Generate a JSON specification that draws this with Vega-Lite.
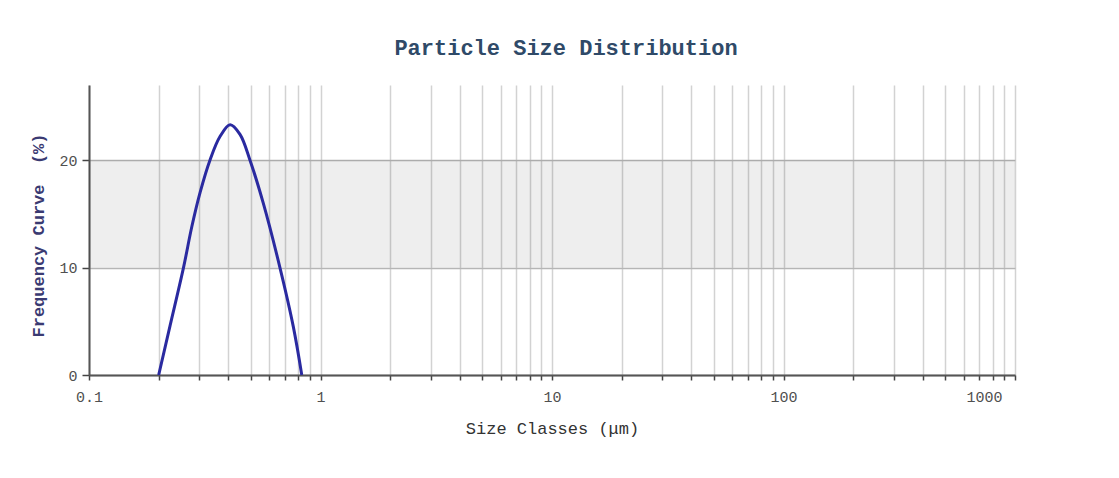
{
  "$schema": "https://vega.github.io/schema/vega-lite/v6.json",
  "autosize": "none",
  "padding": {"left": 89, "top": 85, "right": 104, "bottom": 103},
  "width": 926,
  "height": 290,
  "background": "white",
  "title": {
    "text": "Particle Size Distribution",
    "font": "Liberation Mono",
    "fontSize": 22,
    "fontWeight": "bold",
    "color": "#2f4a68",
    "anchor": "middle",
    "dx": 14,
    "offset": 25
  },
  "config": {
    "view": {"stroke": null},
    "axis": {
      "labelFont": "Liberation Mono",
      "labelFontSize": 15,
      "labelColor": "#505050",
      "domainColor": "#555555",
      "domainWidth": 2,
      "tickColor": "#444444",
      "tickWidth": 1.5
    }
  },
  "datasets": {
    "band": [{"lo": 10, "hi": 20}],
    "curve": [
      {"size": 0.2, "freq": 0},
      {"size": 0.224, "freq": 4.6},
      {"size": 0.256, "freq": 10},
      {"size": 0.278, "freq": 13.8},
      {"size": 0.302, "freq": 17.0},
      {"size": 0.333, "freq": 20},
      {"size": 0.368, "freq": 22.2},
      {"size": 0.407, "freq": 23.3},
      {"size": 0.449, "freq": 22.4},
      {"size": 0.496, "freq": 20},
      {"size": 0.566, "freq": 16.0},
      {"size": 0.668, "freq": 10},
      {"size": 0.763, "freq": 4.5},
      {"size": 0.83, "freq": 0}
    ]
  },
  "layer": [
    {
      "data": {"name": "band"},
      "mark": {"type": "rect", "fill": "#000000", "opacity": 0.065},
      "encoding": {
        "y": {"field": "lo", "type": "quantitative", "scale": {"domain": [0, 27], "nice": false}},
        "y2": {"field": "hi"}
      }
    },
    {
      "data": {"name": "curve"},
      "mark": {"type": "line", "color": "#2a2aa0", "strokeWidth": 3, "interpolate": "catmull-rom"},
      "encoding": {
        "x": {
          "field": "size",
          "type": "quantitative",
          "scale": {"type": "log", "domain": [0.1, 1000], "nice": false},
          "axis": {
            "values": [0.1, 0.2, 0.3, 0.4, 0.5, 0.6, 0.7, 0.8, 0.9, 1, 2, 3, 4, 5, 6, 7, 8, 9, 10, 20, 30, 40, 50, 60, 70, 80, 90, 100, 200, 300, 400, 500, 600, 700, 800, 900, 1000],
            "labelExpr": "indexof([0.1, 1, 10, 100, 1000], datum.value) >= 0 ? (datum.value < 1 ? '0.1' : format(datum.value, 'd')) : ''",
            "labelOverlap": false,
            "labelBound": false,
            "labelFlush": false,
            "labelOffset": {"condition": {"test": "datum.value === 1000", "value": -31}, "value": 0},
            "labelPadding": 9,
            "tickSize": 5,
            "grid": true,
            "gridColor": "#d2d2d2",
            "gridWidth": 1.5,
            "title": "Size Classes (μm)",
            "titleFont": "Liberation Mono",
            "titleFontSize": 17,
            "titleFontWeight": "normal",
            "titleColor": "#333333",
            "titlePadding": 16
          }
        },
        "y": {
          "field": "freq",
          "type": "quantitative",
          "scale": {"domain": [0, 27], "nice": false},
          "axis": {
            "values": [0, 10, 20],
            "tickSize": 7,
            "labelPadding": 5,
            "grid": true,
            "gridColor": "#b5b5b5",
            "gridWidth": 1.5,
            "title": "Frequency Curve\u00a0 (%)",
            "titleFont": "Liberation Mono",
            "titleFontSize": 17,
            "titleFontWeight": "bold",
            "titleColor": "#3a3a72",
            "titlePadding": 11,
            "titleY": 150
          }
        }
      }
    }
  ]
}
